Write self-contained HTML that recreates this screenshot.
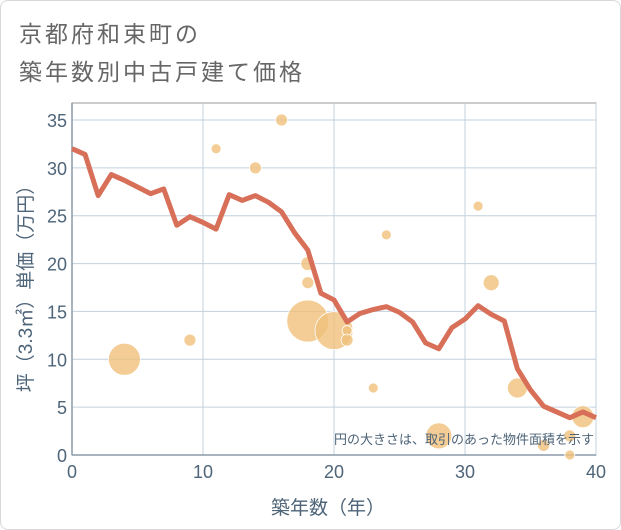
<!DOCTYPE html>
<html><head><meta charset="utf-8"><style>
body{margin:0;background:#fff;}
#wrap{position:relative;width:619px;height:528px;border:1px solid #d8d8d8;border-radius:8px;overflow:hidden;font-family:"Liberation Sans","Noto Sans CJK JP",sans-serif;}
.title{position:absolute;left:18px;font-size:23px;color:#666;letter-spacing:3px;}
</style></head><body>
<div id="wrap">
<div class="title" style="top:14px">京都府和束町の</div>
<div class="title" style="top:52px">築年数別中古戸建て価格</div>
<svg id="chart" width="621" height="530" style="position:absolute;left:-1px;top:-1px"></svg>
</div>
<script>
const lineYears=[0,1,2,3,4,5,6,7,8,9,10,11,12,13,14,15,16,17,18,19,20,21,22,23,24,25,26,27,28,29,30,31,32,33,34,35,36,37,38,39,40];
const linePrices=[32,31.4,27.1,29.3,28.7,28,27.3,27.8,24,24.9,24.3,23.6,27.2,26.6,27.1,26.4,25.4,23.2,21.4,16.9,16.2,13.9,14.8,15.2,15.5,14.9,13.9,11.7,11.1,13.3,14.2,15.6,14.7,14,9,6.8,5.1,4.5,3.9,4.5,3.9];
const bubbleYears=[4,9,11,14,16,18,18,18,20,21,21,23,24,28,31,32,34,36,38,38,39];
const bubblePrices=[10,12,32,30,35,20,18,14,13,13,12,7,23,2,26,18,7,1,2,0,4];
const bubbleSizes=[16,6,5,6,6,7,6,21,19,5,6,5,5,13,5,8,10,6,6,5,11];
const xTicks=[0,10,20,30,40];
const yTicks=[0,5,10,15,20,25,30,35];
const NS='http://www.w3.org/2000/svg';
const svg=document.getElementById('chart');
const L=72,R=596,T=103,B=455;
const xs=v=>L+(v/40)*(R-L);
const ys=v=>B-(v/35)*(455-120);
function mk(tag,attrs){const e=document.createElementNS(NS,tag);for(const k in attrs)e.setAttribute(k,attrs[k]);svg.appendChild(e);return e;}
const bg=mk('rect',{x:L,y:T,width:R-L,height:B-T,fill:'#fff',stroke:'#999','stroke-width':1});


yTicks.forEach(t=>{
 const g=mk('line',{x1:L,x2:R,y1:ys(t),y2:ys(t),stroke:'#c3d0de','stroke-width':1});
 
 
 const tx=mk('text',{x:L-5,y:ys(t)+7,'text-anchor':'end','font-size':18,fill:'#4e6478'});
 tx.textContent=t;
 
 
});
xTicks.forEach(t=>{
 const g=mk('line',{x1:xs(t),x2:xs(t),y1:T,y2:B,stroke:'#c3d0de','stroke-width':1});
 
 
 const tx=mk('text',{x:xs(t),y:B+23,'text-anchor':'middle','font-size':18,fill:'#4e6478'});
 tx.textContent=t;
 
 
});
const ax=mk('line',{x1:L,x2:L,y1:T,y2:B,stroke:'#8a9aa8','stroke-width':1.5});


const ax2=mk('line',{x1:L,x2:R,y1:B,y2:B,stroke:'#8a9aa8','stroke-width':1.5});


bubbleYears.forEach((yr,i)=>{
 const c=mk('circle',{cx:xs(yr),cy:ys(bubblePrices[i]),r:bubbleSizes[i],fill:'#f0c07a','fill-opacity':0.8,stroke:'#fff','stroke-width':0.8});
 
 
});
const pts=lineYears.map((y,i)=>xs(y)+','+ys(linePrices[i])).join(' ');
const pl=mk('polyline',{points:pts,fill:'none',stroke:'#d86f58','stroke-width':5,'stroke-linejoin':'round'});


const note=mk('text',{x:R-2,y:444,'text-anchor':'end','font-size':13,fill:'#4e6478'});
note.textContent='円の大きさは、取引のあった物件面積を示す';


const xt=mk('text',{x:(L+R)/2-6,y:514,'text-anchor':'middle','font-size':19,fill:'#4e6478'});
xt.textContent='築年数（年）';


const yt=mk('text',{x:0,y:0,'text-anchor':'middle','font-size':19,fill:'#4e6478',transform:'translate(32,'+((T+B)/2+5)+') rotate(-90)'});
yt.textContent='坪（3.3㎡）単価（万円）';


</script>
</body></html>
